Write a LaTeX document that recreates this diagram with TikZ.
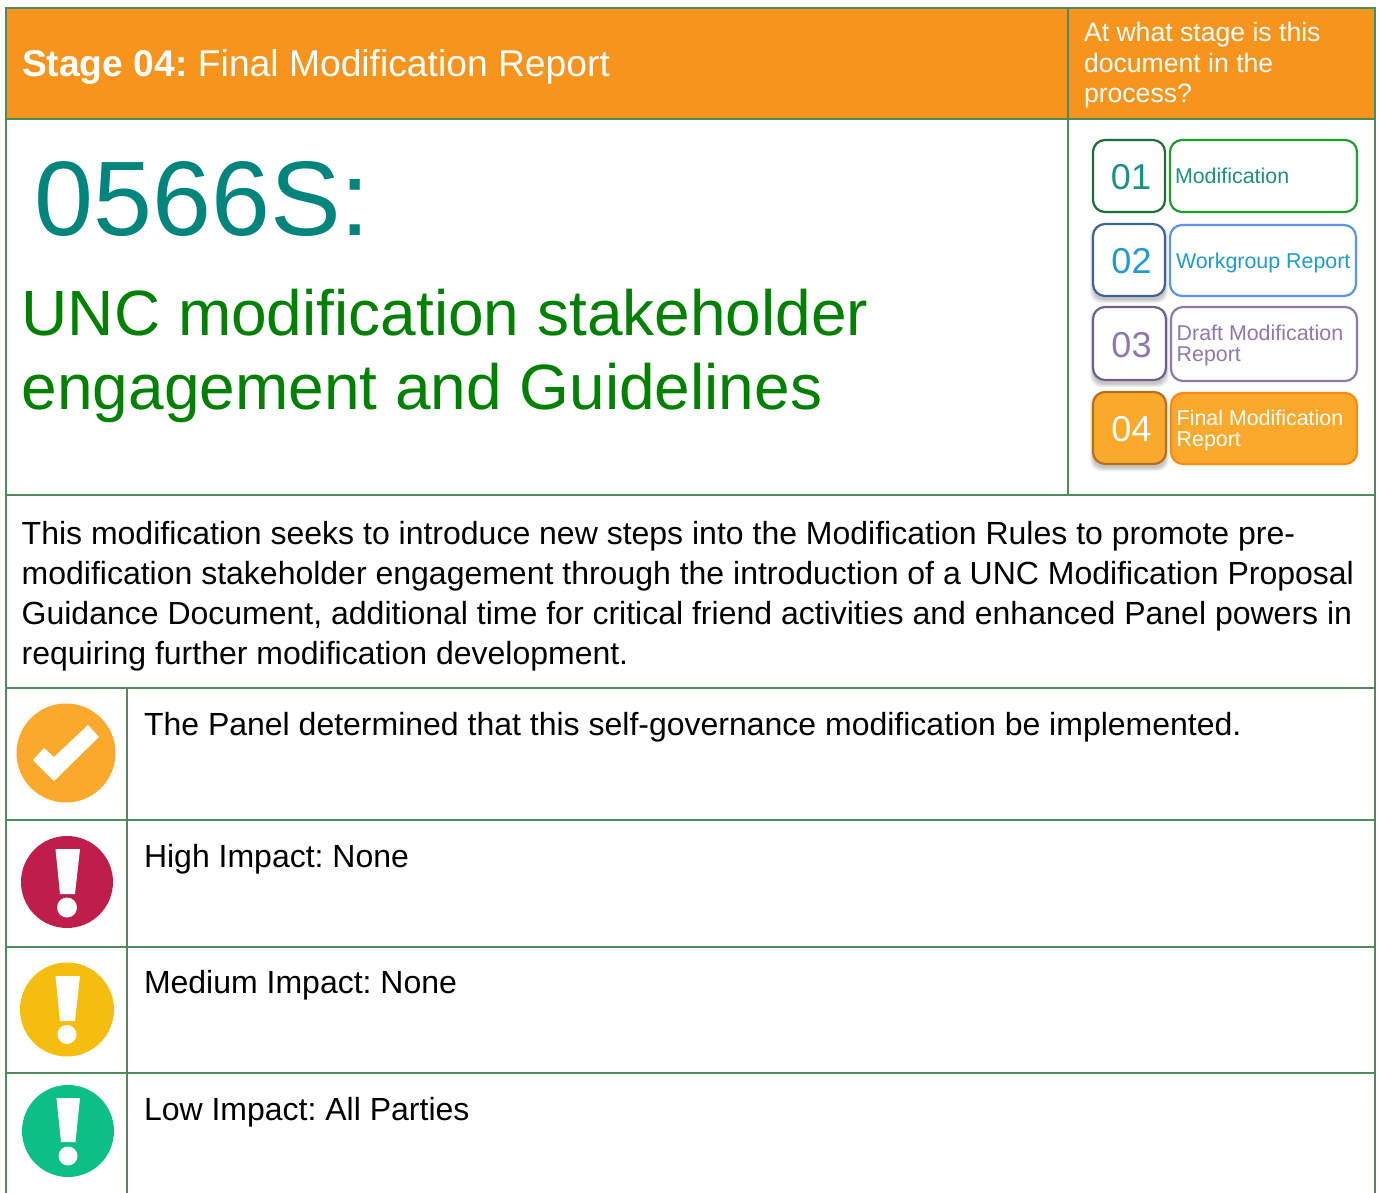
\documentclass[tikz,border=0pt]{standalone}
\usepackage{fontspec}
\setmainfont{Liberation Sans}
\definecolor{rule}{HTML}{4F8A5B}
\definecolor{hdr}{HTML}{F7941D}
\definecolor{teal}{HTML}{00857C}
\definecolor{titlegreen}{HTML}{008000}
\definecolor{tealtext}{HTML}{1F9080}
\definecolor{bluetext}{HTML}{1F9BD1}
\definecolor{purp}{HTML}{8E79AE}
\definecolor{amber}{HTML}{FBA92C}
\definecolor{crimson}{HTML}{BE1E49}
\definecolor{yel}{HTML}{F5BD0F}
\definecolor{grn}{HTML}{0DBF85}
\definecolor{dkgreen}{HTML}{1F6B3A}
\definecolor{midgreen}{HTML}{1E9E2C}
\definecolor{dkblue}{HTML}{3F6298}
\definecolor{ltblue}{HTML}{5B93F0}
\definecolor{dkpurp}{HTML}{6F5F8C}
\definecolor{dkorange}{HTML}{B5701C}
\definecolor{orangeline}{HTML}{FB8A13}
\tikzset{
  x=1pt,y=-1pt,
  gridline/.style={draw=rule,line width=1.5pt},
  txt/.style={anchor=base west,inner sep=0pt,outer sep=0pt,align=left},
  numbox/.style={rounded corners=12pt,line width=2.2pt},
  labbox/.style={rounded corners=12pt,line width=2.2pt},
  numtxt/.style={anchor=center,inner sep=0pt,font=\fontsize{36}{36}\selectfont},
  labtxt/.style={txt,font=\fontsize{21.4}{21}\selectfont},
  body/.style={txt,font=\fontsize{32}{40}\selectfont},
}
\newcommand{\softshadow}[4]{%
  \foreach \d in {0,1,2,3}{
    \fill[black,opacity=0.06,rounded corners=11pt]
      ({#1-\d},{#2+4-\d}) rectangle ({#3+\d},{#4+4+\d});
  }}
\begin{document}
\frenchspacing
\begin{tikzpicture}
\useasboundingbox (0,0) rectangle (1379,1193);
\fill[white] (0,0) rectangle (1379,1193);
% header
\fill[hdr] (6,8) rectangle (1375,119);
% grid
\draw[gridline] (6,8) rectangle (1375,1194);
\draw[gridline] (6,119) -- (1375,119);
\draw[gridline] (1068,8) -- (1068,495);
\draw[gridline] (6,495) -- (1375,495);
\draw[gridline] (6,688) -- (1375,688);
\draw[gridline] (6,820) -- (1375,820);
\draw[gridline] (6,947) -- (1375,947);
\draw[gridline] (6,1073) -- (1375,1073);
\draw[gridline] (127,688) -- (127,1194);
% header text
\node[txt,text=white,font=\fontsize{37.25}{37}\selectfont] (stage) at (22,76.5) {\textbf{Stage 04:} Final Modification Report};
\node[txt,text=white,font=\fontsize{26.6}{30.5}\selectfont] (ask) at (1084,103) {At what stage is this\\document in the\\process?};
% titles
\node[txt,text=teal,font=\fontsize{106}{106}\selectfont] (code) at (34.5,236) {0566S:};
\node[txt,text=titlegreen,font=\fontsize{64}{74}\selectfont] (title) at (21.7,409) {UNC modification stakeholder\\engagement and Guidelines};
% stage boxes
\draw[numbox,draw=dkgreen,fill=white] (1093,140) rectangle (1165,212);
\node[numtxt,text=teal!90] (n1) at (1131,177.5) {01};
\draw[labbox,draw=midgreen,fill=white] (1170,140) rectangle (1357,212);
\node[labtxt,text=tealtext] (l1) at (1175,184) {Modification};
\softshadow{1093}{224}{1165}{296}
\draw[numbox,draw=dkblue,fill=white] (1093,224) rectangle (1165,296);
\node[numtxt,text=bluetext] (n2) at (1131.5,261) {02};
\draw[labbox,draw=ltblue,fill=white] (1170,225) rectangle (1356,296);
\node[labtxt,text=bluetext] (l2) at (1176,269) {Workgroup Report};
\softshadow{1093}{307}{1166}{380}
\draw[numbox,draw=dkpurp,fill=white] (1093,307) rectangle (1166,380);
\node[numtxt,text=purp] (n3) at (1131.5,345.5) {03};
\draw[labbox,draw=purp,fill=white] (1171,307) rectangle (1357,381);
\node[labtxt,text=purp] (l3) at (1176.7,361) {Draft Modification\\Report};
\softshadow{1093}{392}{1166}{464}
\draw[numbox,draw=dkorange,fill=amber] (1093,392) rectangle (1166,464);
\node[numtxt,text=white] (n4) at (1131.5,429.5) {04};
\draw[labbox,draw=orangeline,fill=amber] (1171,393) rectangle (1357,464);
\node[labtxt,text=white] (l4) at (1176.7,446) {Final Modification\\Report};
% body
\node[body] (desc) at (21.7,664) {This modification seeks to introduce new steps into the Modification Rules to promote pre-\\modification stakeholder engagement through the introduction of a UNC Modification Proposal\\Guidance Document, additional time for critical friend activities and enhanced Panel powers in\\requiring further modification development.};
\node[body] (r1) at (144,735) {The Panel determined that this self-governance modification be implemented.};
\node[body] (r2) at (144,867) {High Impact: None};
\node[body] (r3) at (144,993) {Medium Impact: None};
\node[body] (r4) at (144,1120) {Low Impact: All Parties};
% icons
\fill[amber] (66,753) circle (49.5);
\fill[white] (33,760) -- (44,748) -- (54,757) -- (88,725) -- (99,737) -- (54,781) -- cycle;
\fill[crimson] (67,882) circle (46);
\fill[white] (55.5,849) -- (80,849) -- (75,894) -- (60,894) -- cycle;
\fill[white] (67,907.5) circle (10);
\fill[yel] (67,1009.5) circle (47);
\fill[white] (55.5,976) -- (80,976) -- (75,1021) -- (60,1021) -- cycle;
\fill[white] (67,1034.5) circle (9.5);
\fill[grn] (68,1131) circle (46);
\fill[white] (56.5,1098) -- (80,1098) -- (75.5,1142) -- (61,1142) -- cycle;
\fill[white] (68,1156) circle (9.5);
\end{tikzpicture}
\end{document}
